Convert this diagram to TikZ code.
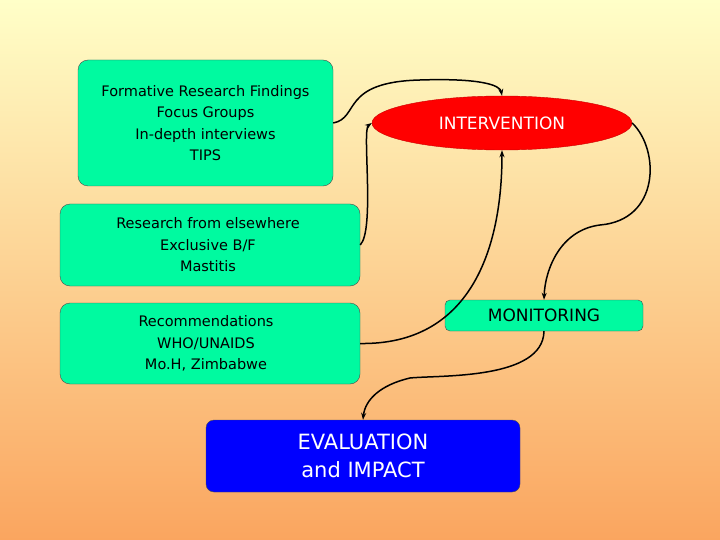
\documentclass[tikz,border=0pt]{standalone}
\usepackage{fontspec}
\setmainfont{DejaVu Sans}
\usetikzlibrary{shapes.geometric,arrows.meta}
\definecolor{grn}{RGB}{0,250,160}
\definecolor{topc}{RGB}{255,255,200}
\definecolor{botc}{RGB}{250,165,95}
\begin{document}
\begin{tikzpicture}[x=1pt,y=-1pt,
  gbox/.style={draw=black!70,fill=grn,rounded corners=10pt,align=center,font=\fontsize{14.5}{21.5}\selectfont,inner sep=0pt},
  conn/.style={line width=1.5pt,-{Stealth[length=7pt,width=5pt]}}]
\shade[top color=topc,bottom color=botc] (0,0) rectangle (720,540);
\useasboundingbox (0,0) rectangle (720,540);
\node[gbox,minimum width=255,minimum height=126] (f) at (205.5,123) {Formative Research Findings\\Focus Groups\\In-depth interviews\\TIPS};
\node[gbox,minimum width=300,minimum height=82] (r) at (210,245) {};
\node[align=center,font=\fontsize{14.5}{21.5}\selectfont,inner sep=0pt] (rt) at (r.center) [xshift=-2pt] {Research from elsewhere\\Exclusive B/F\\Mastitis};
\node[gbox,minimum width=300,minimum height=81] (c) at (210,343.5) {};
\node[align=center,font=\fontsize{14.5}{21.5}\selectfont,inner sep=0pt] (ct) at (c.center) [xshift=-4pt] {Recommendations\\WHO/UNAIDS\\Mo.H, Zimbabwe};
\node[ellipse,fill=red,draw=red!80!black,minimum width=260,minimum height=54,text=white,font=\fontsize{17}{20}\selectfont] (i) at (502,123) {INTERVENTION};
\node[gbox,rounded corners=5pt,minimum width=198,minimum height=31,font=\fontsize{17}{20}\selectfont] (m) at (544,315.5) {MONITORING};
\node[draw=black!70,fill=blue,rounded corners=8pt,minimum width=314,minimum height=72,align=center,text=white,font=\fontsize{21}{28}\selectfont,inner sep=0pt] (e) at (363,456) {};
\node[align=center,text=white,font=\fontsize{21}{28}\selectfont,inner sep=0pt] (et) at (e.center) {EVALUATION\\and IMPACT};
\draw[conn] (f.east) .. controls (360,118) and (340,82) .. (420,80) .. controls (480,78) and (500,85) .. (i.north);
\draw[conn] (r.east) .. controls (375,230) and (362,130) .. (i.west);
\draw[conn] (c.east) .. controls (470,345) and (502,250) .. (i.south);
\draw[conn] (i.east) .. controls (660,150) and (660,220) .. (600,225) .. controls (560,230) and (545,270) .. (m.north);
\draw[conn] (m.south) .. controls (543,380) and (440,375) .. (410,378) .. controls (380,385) and (365,400) .. (e.north);
\end{tikzpicture}
\end{document}
